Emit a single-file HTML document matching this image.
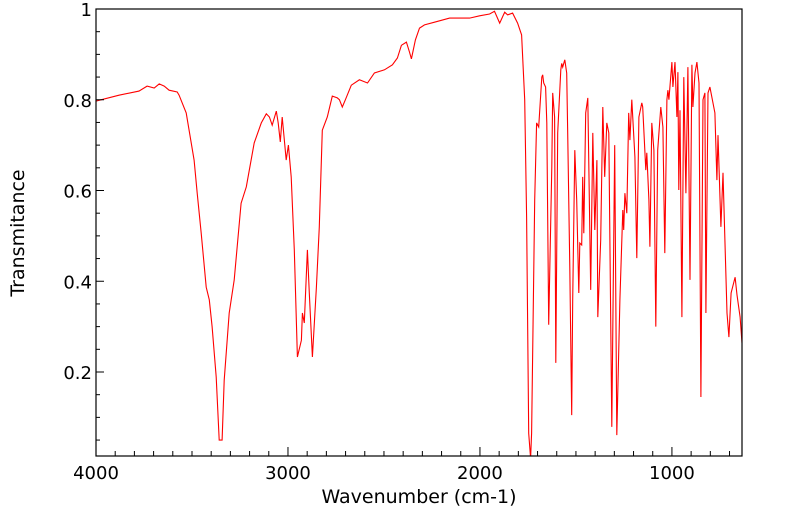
<!DOCTYPE html>
<html><head><meta charset="utf-8"><style>
html,body{margin:0;padding:0;background:#fff;}
svg{display:block;font-family:"DejaVu Sans","Liberation Sans",sans-serif;}
</style></head><body>
<svg id="chart" width="799" height="516" viewBox="0 0 799 516" xmlns="http://www.w3.org/2000/svg">
<rect x="0" y="0" width="799" height="516" fill="#fff"/>
<g id="series"></g>
<g id="axes"></g>
<text x="419" y="503" text-anchor="middle" font-size="19">Wavenumber (cm-1)</text>
<text transform="translate(24,233) rotate(-90)" text-anchor="middle" font-size="19">Transmitance</text>
</svg>
<script>
const wavenumbers = [4000,3880,3776,3734,3697,3671,3645,3619,3577,3567,3530,3489,3473,3452,3426,3410,3395,3374,3358,3343,3332,3306,3280,3244,3217,3176,3139,3113,3097,3082,3061,3051,3040,3030,3009,2998,2983,2967,2951,2930,2925,2915,2899,2889,2873,2852,2837,2821,2795,2769,2743,2732,2717,2701,2670,2628,2586,2550,2497,2456,2430,2409,2383,2367,2357,2336,2315,2289,2237,2158,2054,2002,1950,1924,1897,1871,1856,1830,1804,1783,1767,1757,1746,1736,1731,1715,1705,1694,1678,1673,1668,1658,1652,1642,1626,1621,1611,1605,1595,1579,1574,1569,1558,1548,1543,1532,1522,1517,1506,1496,1485,1480,1470,1465,1459,1449,1438,1423,1412,1402,1391,1386,1371,1360,1350,1339,1329,1313,1298,1287,1271,1256,1251,1245,1235,1225,1219,1209,1193,1183,1172,1157,1152,1136,1131,1120,1115,1105,1094,1084,1074,1058,1047,1037,1026,1021,1016,1000,995,984,974,969,964,958,948,938,927,917,906,896,891,880,870,859,849,838,828,823,812,802,776,766,760,745,734,724,713,703,692,671,661,645,635];
const transmittance = [0.797,0.81,0.819,0.83,0.826,0.835,0.83,0.821,0.817,0.81,0.771,0.667,0.594,0.506,0.387,0.359,0.30,0.189,0.05,0.05,0.182,0.33,0.403,0.572,0.608,0.705,0.749,0.769,0.762,0.744,0.775,0.749,0.707,0.762,0.667,0.70,0.63,0.469,0.233,0.27,0.33,0.308,0.469,0.374,0.233,0.387,0.52,0.733,0.762,0.808,0.804,0.80,0.784,0.80,0.832,0.844,0.837,0.859,0.866,0.877,0.892,0.92,0.927,0.905,0.89,0.932,0.958,0.965,0.971,0.98,0.98,0.985,0.989,0.995,0.969,0.993,0.987,0.991,0.969,0.943,0.80,0.542,0.065,0.01,0.065,0.579,0.749,0.74,0.85,0.855,0.837,0.828,0.749,0.304,0.652,0.815,0.762,0.22,0.727,0.866,0.88,0.872,0.888,0.859,0.727,0.431,0.105,0.359,0.689,0.579,0.374,0.484,0.48,0.63,0.506,0.771,0.804,0.381,0.727,0.513,0.667,0.321,0.491,0.784,0.63,0.749,0.727,0.079,0.70,0.061,0.359,0.557,0.513,0.594,0.55,0.771,0.711,0.80,0.674,0.451,0.762,0.793,0.784,0.645,0.683,0.579,0.476,0.749,0.689,0.30,0.689,0.784,0.74,0.462,0.80,0.821,0.80,0.883,0.828,0.883,0.762,0.861,0.601,0.777,0.321,0.85,0.594,0.872,0.403,0.877,0.784,0.859,0.883,0.837,0.145,0.80,0.815,0.33,0.815,0.828,0.771,0.623,0.722,0.52,0.639,0.491,0.33,0.277,0.374,0.409,0.37,0.321,0.264];
const xTickLabels = ["4000","3000","2000","1000"];
const xTickValues = [4000,3000,2000,1000];
const yTickLabels = ["0.2","0.4","0.6","0.8","1"];
const yTickValues = [0.2,0.4,0.6,0.8,1.0];

const L=96,R=742,T=9,B=456;
const WN_MAX=4000,WN_MIN=635;
function xs(w){return L+(WN_MAX-w)/(WN_MAX-WN_MIN)*(R-L);}
function ys(t){return 9+(1-t)*453.75;}
const NS="http://www.w3.org/2000/svg";
const series=document.getElementById('series');
const axes=document.getElementById('axes');

let d="";
for(let i=0;i<wavenumbers.length;i++){
  d+=(i?"L":"M")+xs(wavenumbers[i]).toFixed(1)+","+ys(transmittance[i]).toFixed(1);
}
const clip=document.createElementNS(NS,'clipPath');
clip.setAttribute('id','plotclip');
const cr=document.createElementNS(NS,'rect');
cr.setAttribute('x',L);cr.setAttribute('y',T);cr.setAttribute('width',R-L);cr.setAttribute('height',B-T);
clip.appendChild(cr);
document.getElementById('chart').appendChild(clip);
const path=document.createElementNS(NS,'path');


path.setAttribute('d',d);
path.setAttribute('fill','none');
path.setAttribute('stroke','#ff0000');
path.setAttribute('stroke-width','1.1');
path.setAttribute('clip-path','url(#plotclip)');
series.appendChild(path);

const frame=document.createElementNS(NS,'rect');


frame.setAttribute('x',L);frame.setAttribute('y',T);
frame.setAttribute('width',R-L);frame.setAttribute('height',B-T);
frame.setAttribute('fill','none');frame.setAttribute('stroke','#000');frame.setAttribute('stroke-width','1.2');
axes.appendChild(frame);

function line(x1,y1,x2,y2,name){
  const l=document.createElementNS(NS,'line');
  
  
  l.setAttribute('x1',x1);l.setAttribute('y1',y1);l.setAttribute('x2',x2);l.setAttribute('y2',y2);
  l.setAttribute('stroke','#000');l.setAttribute('stroke-width','1');
  axes.appendChild(l);
}
function text(x,y,s,anchor,name){
  const t=document.createElementNS(NS,'text');
  
  
  t.setAttribute('x',x);t.setAttribute('y',y);t.setAttribute('text-anchor',anchor);
  t.setAttribute('font-size','18');
  t.textContent=s;
  axes.appendChild(t);
}
for(let w=4000;w>=WN_MIN;w-=100){
  const major=(w%1000===0);
  line(xs(w),B,xs(w),B-(major?9:5),major?'x-major-tick':'x-minor-tick');
}
for(let i=0;i<xTickValues.length;i++){
  text(xs(xTickValues[i]),B+23,xTickLabels[i],'middle','x-tick-label');
}
for(let k=1;k<=20;k++){
  const t=k*0.05;
  if(ys(t)>B) continue;
  const major=(k%4===0);
  line(L,ys(t),L+(major?8:4),ys(t),major?'y-major-tick':'y-minor-tick');
}
for(let i=0;i<yTickValues.length;i++){
  text(L-4,ys(yTickValues[i])+7,yTickLabels[i],'end','y-tick-label');
}
</script>
</body></html>
